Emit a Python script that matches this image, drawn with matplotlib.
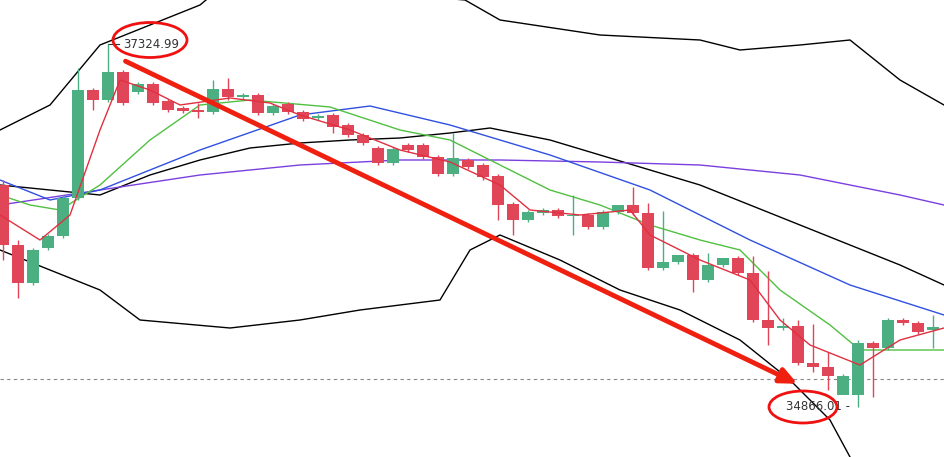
import matplotlib.pyplot as plt
from matplotlib.patches import Ellipse, FancyArrow

# values in screen rows (top = 0), converted to price below
# price = 37324.99 at row 44, 34866.01 at row 407
opens = [185, 245, 283, 248, 236, 198, 90, 100, 72, 92, 84, 101, 108, 110, 112, 89, 97, 95, 113, 104,
         112, 118, 115, 125, 135, 148, 163, 145, 145, 157, 174, 160, 165, 176, 204, 220, 213, 210, 216, 215,
         227, 212, 205, 213, 268, 262, 255, 280, 265, 258, 273, 320, 328, 326, 363, 367, 395, 395, 343, 348,
         320, 323, 330]
closes = [245, 283, 250, 236, 198, 90, 100, 72, 103, 84, 103, 110, 111, 112, 89, 97, 95, 113, 106, 112,
          119, 116, 127, 135, 143, 163, 149, 150, 157, 174, 158, 167, 177, 205, 220, 212, 210, 216, 215, 227,
          212, 205, 213, 268, 262, 255, 280, 265, 258, 273, 320, 328, 326, 363, 367, 376, 376, 343, 348, 320,
          323, 332, 327]
highs = [180, 240, 248, 234, 195, 68, 88, 44, 70, 82, 82, 99, 106, 103, 80, 78, 93, 93, 104, 102,
         110, 114, 113, 123, 133, 146, 147, 143, 143, 155, 133, 158, 163, 174, 202, 210, 208, 208, 195, 213,
         210, 210, 187, 203, 211, 260, 253, 253, 263, 256, 256, 271, 318, 320, 324, 352, 374, 340, 341, 318,
         318, 321, 315]
lows = [260, 298, 285, 250, 238, 200, 110, 102, 105, 94, 105, 112, 113, 118, 114, 100, 99, 115, 115, 114,
        121, 120, 133, 137, 145, 165, 165, 152, 159, 176, 176, 169, 180, 220, 235, 222, 215, 218, 235, 229,
        229, 214, 215, 270, 270, 264, 292, 282, 267, 275, 322, 345, 330, 365, 372, 390, 380, 407, 397, 350,
        325, 334, 348]

# lines: (screen x, screen row)
upper_x = [0, 50, 100, 150, 200, 230, 465, 500, 600, 700, 740, 800, 850, 900, 944]
upper_y = [130, 105, 45, 25, 5, -20, 0, 20, 35, 40, 50, 45, 40, 80, 105]
lower_x = [0, 50, 100, 140, 230, 300, 360, 440, 470, 500, 560, 620, 680, 740, 790, 830, 850]
lower_y = [250, 270, 290, 320, 328, 320, 310, 300, 250, 235, 260, 290, 310, 340, 380, 420, 457]
mid_x = [0, 50, 100, 150, 200, 250, 300, 350, 400, 450, 490, 550, 600, 650, 700, 750, 800, 850, 900, 944]
mid_y = [185, 190, 195, 175, 160, 148, 143, 140, 138, 133, 128, 140, 155, 170, 185, 205, 225, 245, 265, 285]
purple_x = [0, 100, 200, 300, 400, 500, 600, 700, 800, 900, 944]
purple_y = [205, 190, 175, 165, 160, 160, 162, 165, 175, 195, 205]
blue_x = [0, 50, 100, 200, 300, 370, 450, 550, 650, 750, 850, 944]
blue_y = [180, 200, 190, 150, 115, 106, 125, 155, 190, 240, 285, 315]
green_x = [0, 30, 60, 100, 150, 200, 250, 330, 400, 450, 500, 550, 600, 650, 700, 740, 780, 830, 860, 944]
green_y = [195, 205, 210, 185, 140, 105, 100, 107, 130, 140, 165, 190, 205, 225, 240, 250, 290, 325, 350, 350]
red_x = [0, 40, 70, 100, 120, 150, 180, 230, 270, 300, 350, 400, 450, 500, 530, 580, 630, 650, 700, 750,
         780, 810, 860, 900, 944]
red_y = [215, 240, 215, 130, 80, 90, 105, 98, 103, 115, 130, 150, 162, 185, 210, 215, 210, 235, 260, 280,
         320, 345, 365, 340, 328]

hi_label = "37324.99"
lo_label = "34866.01"


def price(rows):
    return [37324.99 - (r - 44) * (37324.99 - 34866.01) / 363 for r in rows]


def idx(xs):
    return [(x - 3) / 15 for x in xs]


fig = plt.figure(figsize=(9.44, 4.57), dpi=100)
ax = fig.add_axes([0, 0, 1, 1])

up_col = '#4caf82'
dn_col = '#e04558'
o, c, h, l = price(opens), price(closes), price(highs), price(lows)
for i in range(len(o)):
    col = up_col if c[i] >= o[i] else dn_col
    ax.vlines(i, l[i], h[i], color=col, lw=1, zorder=3)
    lo_, hi_ = min(o[i], c[i]), max(o[i], c[i])
    ax.bar(i, max(hi_ - lo_, 5), bottom=lo_, width=0.75, color=col, zorder=3)

ax.plot(idx(upper_x), price(upper_y), color='black', lw=1)
ax.plot(idx(lower_x), price(lower_y), color='black', lw=1)
ax.plot(idx(mid_x), price(mid_y), color='black', lw=1)
ax.plot(idx(purple_x), price(purple_y), color='#7b3fe0', lw=1)
ax.plot(idx(blue_x), price(blue_y), color='#3050e0', lw=1)
ax.plot(idx(green_x), price(green_y), color='#50c040', lw=1)
ax.plot(idx(red_x), price(red_y), color='#e03040', lw=1, zorder=4)

ax.axhline(price([379])[0], color='#888888', lw=0.8, ls=(0, (3, 3)))

hp = price([44])[0]
lp = price([407])[0]
ax.text(idx([123])[0], hp, hi_label, fontsize=8.5, va='center', ha='left', color='#333333')
ax.plot([7, 7.7], [hp, hp], color='#333333', lw=0.8)
ax.text(idx([818])[0], lp, lo_label + " -", fontsize=8.5, va='center', ha='center', color='#333333')

ax.add_patch(Ellipse((idx([150])[0], price([40])[0]), 74 / 15, 35 * 6.774, fill=False,
                     ec='#f01010', lw=2, zorder=6))
ax.add_patch(Ellipse((idx([803])[0], price([407])[0]), 68 / 15, 32 * 6.774, fill=False,
                     ec='#f01010', lw=2, zorder=6))

x0, y0 = idx([123])[0], price([60])[0]
x1, y1 = idx([800])[0], price([385])[0]
ax.annotate('', xy=(x1, y1), xytext=(x0, y0),
            arrowprops=dict(arrowstyle='-|>,head_length=1.0,head_width=0.45', color='#f02010', lw=3.5),
            zorder=7)

ax.set_xlim(idx([0])[0], idx([944])[0])
ax.set_ylim(price([457])[0], price([0])[0])
ax.axis('off')
fig.savefig('out.png', dpi=100)
